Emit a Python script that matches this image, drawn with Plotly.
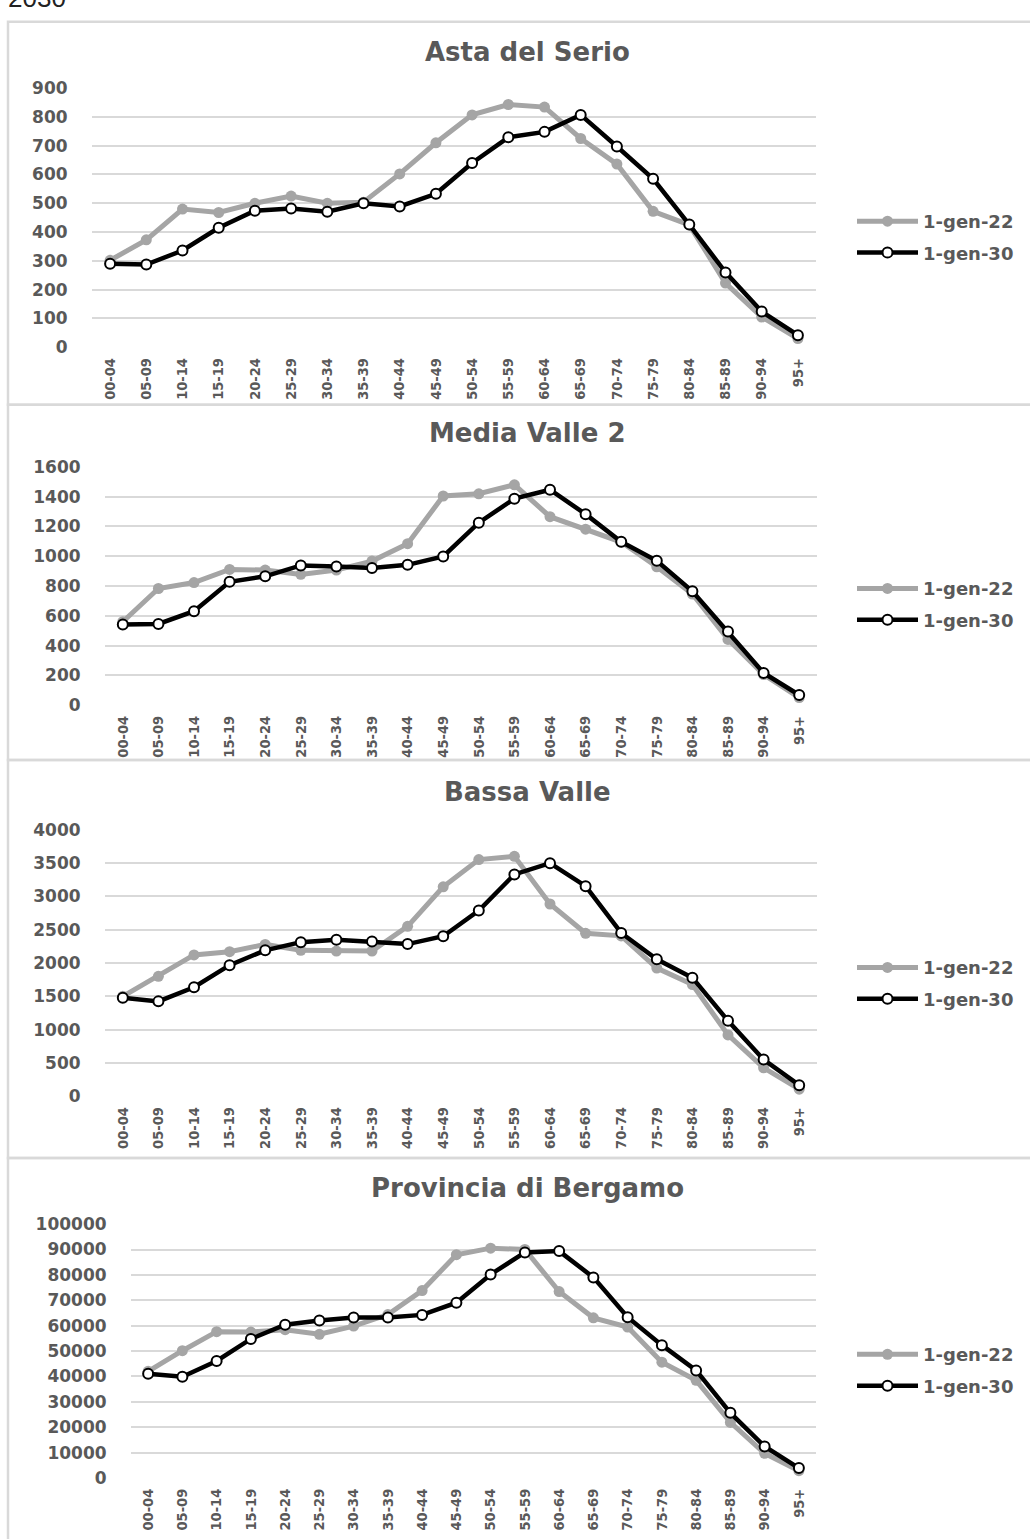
import plotly.graph_objects as go

W, H = 1030, 1539

categories = ["00-04", "05-09", "10-14", "15-19", "20-24", "25-29", "30-34", "35-39",
              "40-44", "45-49", "50-54", "55-59", "60-64", "65-69", "70-74", "75-79",
              "80-84", "85-89", "90-94", "95+"]

series_names = ["1-gen-22", "1-gen-30"]
panel_titles = ["Asta del Serio", "Media Valle 2", "Bassa Valle", "Provincia di Bergamo"]

asta_22 = [302, 373, 480, 468, 500, 525, 500, 504, 602, 710, 807, 843, 834, 725, 636, 472, 425, 223, 105, 30]
asta_30 = [290, 287, 336, 415, 474, 482, 471, 500, 489, 533, 640, 729, 748, 807, 697, 585, 426, 260, 124, 42]

media_22 = [560, 783, 823, 911, 907, 878, 907, 967, 1084, 1404, 1419, 1479, 1265, 1181, 1095, 929, 746, 441, 205, 51]
media_30 = [541, 545, 631, 828, 865, 938, 931, 920, 942, 998, 1225, 1386, 1446, 1282, 1097, 969, 764, 494, 216, 68]

bassa_22 = [1500, 1800, 2121, 2170, 2279, 2190, 2180, 2180, 2550, 3142, 3551, 3600, 2885, 2446, 2407, 1924, 1677, 922, 429, 108]
bassa_30 = [1480, 1425, 1637, 1968, 2190, 2313, 2348, 2323, 2284, 2402, 2787, 3329, 3497, 3152, 2451, 2057, 1780, 1134, 552, 168]

prov_22 = [42000, 50130, 57640, 57500, 58420, 56600, 59840, 64380, 73830, 87950, 90540, 90030, 73450, 63080, 59460, 45600, 38470, 21900, 9700, 2850]
prov_30 = [41060, 39900, 46110, 54790, 60360, 62050, 63210, 63210, 64250, 69040, 80180, 88860, 89380, 79020, 63340, 52330, 42360, 25650, 12440, 3890]

y_max = [900, 1600, 4000, 100000]
y_step = [100, 200, 500, 10000]

data = [(asta_22, asta_30), (media_22, media_30), (bassa_22, bassa_30), (prov_22, prov_30)]

# layout geometry in pixels
plot_x = [(92, 816), (105, 817), (105, 817), (131, 816)]
plot_y = [(79, 341.7), (462.7, 704.3), (830.3, 1100.7), (1230, 1487.3)]
title_y = [43, 429, 792, 1194]
legend_y = [230, 602, 986, 1378]
frames = [(12, 400), (400, 760), (760, 1163), (1163, 1560)]

GRAY = "#A5A5A5"
TXT = "#595959"
GRID = "#D9D9D9"

def fx(px):
    return px / W

def fy(py):
    return 1 - py / H

fig = go.Figure()
layout = dict(
    width=W, height=H, autosize=False,
    margin=dict(l=0, r=0, t=0, b=0),
    paper_bgcolor="white", plot_bgcolor="white",
    showlegend=True,
    annotations=[], shapes=[],
)

for i in range(4):
    n = "" if i == 0 else str(i + 1)
    leg = "legend" + n
    s22, s30 = data[i]
    fig.add_trace(go.Scatter(
        x=categories, y=s22, name=series_names[0], mode="lines+markers",
        line=dict(color=GRAY, width=5),
        marker=dict(color=GRAY, size=11, symbol="circle"),
        xaxis="x" + n, yaxis="y" + n, legend=leg, legendgroup="a" + n,
    ))
    fig.add_trace(go.Scatter(
        x=categories, y=s30, name=series_names[1], mode="lines+markers",
        line=dict(color="black", width=4.5),
        marker=dict(color="white", size=10, symbol="circle", line=dict(color="black", width=2)),
        xaxis="x" + n, yaxis="y" + n, legend=leg, legendgroup="b" + n,
    ))
    x0, x1 = plot_x[i]
    y0, y1 = plot_y[i]
    layout["xaxis" + n] = dict(
        domain=[fx(x0), fx(x1)], anchor="y" + n, type="category",
        range=[-0.5, len(categories) - 0.5], tickangle=-90,
        showgrid=False, showline=False, zeroline=False,
        ticks="outside", ticklen=4, tickcolor="rgba(0,0,0,0)",
        tickfont=dict(family="DejaVu Sans Condensed, sans-serif", size=14.5, color=TXT, weight="bold"),
    )
    layout["yaxis" + n] = dict(
        domain=[fy(y1), fy(y0)], anchor="x" + n,
        range=[0, y_max[i] * 1.0005], dtick=y_step[i], tick0=0, tickformat="d",
        showgrid=True, gridcolor=GRID, gridwidth=1.5,
        showline=False, zeroline=False,
        ticks="outside", ticklen=20, tickcolor="rgba(0,0,0,0)",
        tickfont=dict(family="DejaVu Sans", size=17, color=TXT, weight="bold"),
    )
    layout[leg] = dict(
        x=fx(852), y=fy(legend_y[i]), xanchor="left", yanchor="middle",
        bgcolor="rgba(0,0,0,0)", traceorder="grouped", tracegroupgap=5,
        font=dict(family="DejaVu Sans", size=18, color=TXT, weight="bold"),
        itemwidth=61,
    )
    layout["annotations"].append(dict(
        text=panel_titles[i], x=fx(527), y=fy(title_y[i]), xref="paper", yref="paper",
        xanchor="center", yanchor="middle", showarrow=False,
        font=dict(family="DejaVu Sans", size=26, color=TXT, weight="bold"),
    ))
    fy0, fy1 = frames[i]
    layout["shapes"].append(dict(
        type="rect", xref="paper", yref="paper",
        x0=fx(8), x1=fx(1045), y0=fy(fy1), y1=fy(fy0),
        line=dict(color=GRID, width=2.5), fillcolor="rgba(0,0,0,0)", layer="below",
    ))

layout["annotations"].append(dict(
    text="2030", x=fx(6), y=fy(-12), xref="paper", yref="paper",
    xanchor="left", yanchor="middle", showarrow=False,
    font=dict(family="Liberation Sans, Arial, sans-serif", size=26, color="#222222"),
))

fig.update_layout(**layout)
fig.write_html("out.html",
               post_script="document.documentElement.style.margin='0';document.body.style.margin='0';",
               config={"displayModeBar": False})
